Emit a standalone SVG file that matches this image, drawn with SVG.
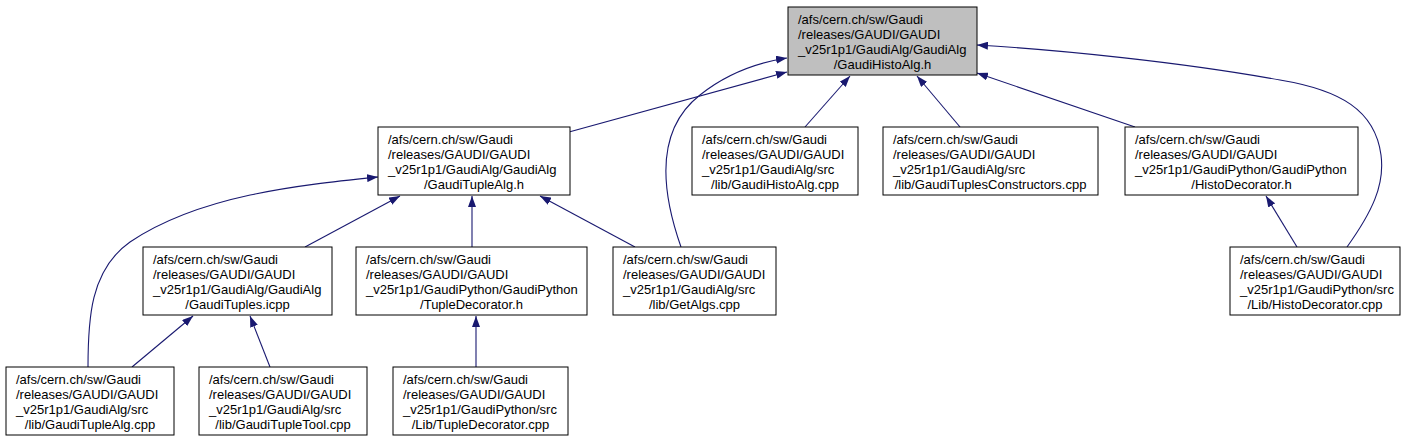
<svg xmlns="http://www.w3.org/2000/svg" width="1412" height="443" viewBox="0 0 1412 443">
<defs>
<marker id="ah" viewBox="0 0 11 8" refX="11" refY="4" markerWidth="11" markerHeight="8" markerUnits="userSpaceOnUse" orient="auto">
<polygon points="0,0 11,4 0,8" fill="#191970"/>
</marker>
<style>
.box{fill:#ffffff;stroke:#000000;stroke-width:1}
.root{fill:#bfbfbf;stroke:#000000;stroke-width:1}
text{font-family:"Liberation Sans",Helvetica,Arial,sans-serif;font-size:13px;fill:#000000}
.c{text-anchor:middle}
.e{fill:none;stroke:#191970;stroke-width:1.1;marker-end:url(#ah)}
</style>
</defs>
<rect width="1412" height="443" fill="#ffffff"/>
<g id="connectors">
<path class="e" d="M569,132 L787,72"/>
<path class="e" d="M681,247 C661,190 655,130 700,95 C725,75 755,63 787,58"/>
<path class="e" d="M805,127 L850,76"/>
<path class="e" d="M960,127 L917,76"/>
<path class="e" d="M1135,127 L977,73"/>
<path class="e" d="M1347,247 C1372,212 1385,185 1381,155 C1375,110 1340,90 1280,80 C1180,62 1060,50 977,45"/>
<path class="e" d="M305,247 L400,196"/>
<path class="e" d="M472,247 L472,196"/>
<path class="e" d="M635,247 L540,196"/>
<path class="e" d="M88,367 C88,320 90,270 130,242 C200,195 300,185 378,177"/>
<path class="e" d="M132,367 L193,316"/>
<path class="e" d="M270,367 L250,316"/>
<path class="e" d="M476,367 L476,316"/>
<path class="e" d="M1297,247 L1266,196"/>
</g>
<g id="n_root">
<rect class="root" x="788" y="7" width="189" height="68"/>
<text x="798" y="24">/afs/cern.ch/sw/Gaudi</text>
<text x="798" y="39">/releases/GAUDI/GAUDI</text>
<text x="798" y="54">_v25r1p1/GaudiAlg/GaudiAlg</text>
<text class="c" x="882.5" y="69">/GaudiHistoAlg.h</text>
</g>
<g id="n_tuplealg_h">
<rect class="box" x="378" y="127" width="192" height="68"/>
<text x="388" y="144">/afs/cern.ch/sw/Gaudi</text>
<text x="388" y="159">/releases/GAUDI/GAUDI</text>
<text x="388" y="174">_v25r1p1/GaudiAlg/GaudiAlg</text>
<text class="c" x="474" y="189">/GaudiTupleAlg.h</text>
</g>
<g id="n_histoalg_cpp">
<rect class="box" x="692" y="127" width="166" height="68"/>
<text x="702" y="144">/afs/cern.ch/sw/Gaudi</text>
<text x="702" y="159">/releases/GAUDI/GAUDI</text>
<text x="702" y="174">_v25r1p1/GaudiAlg/src</text>
<text class="c" x="775" y="189">/lib/GaudiHistoAlg.cpp</text>
</g>
<g id="n_tuplesconstructors">
<rect class="box" x="883" y="127" width="215" height="68"/>
<text x="893" y="144">/afs/cern.ch/sw/Gaudi</text>
<text x="893" y="159">/releases/GAUDI/GAUDI</text>
<text x="893" y="174">_v25r1p1/GaudiAlg/src</text>
<text class="c" x="990.5" y="189">/lib/GaudiTuplesConstructors.cpp</text>
</g>
<g id="n_histodecorator_h">
<rect class="box" x="1125" y="127" width="233" height="68"/>
<text x="1135" y="144">/afs/cern.ch/sw/Gaudi</text>
<text x="1135" y="159">/releases/GAUDI/GAUDI</text>
<text x="1135" y="174">_v25r1p1/GaudiPython/GaudiPython</text>
<text class="c" x="1241.5" y="189">/HistoDecorator.h</text>
</g>
<g id="n_tuples_icpp">
<rect class="box" x="143" y="247" width="189" height="68"/>
<text x="153" y="264">/afs/cern.ch/sw/Gaudi</text>
<text x="153" y="279">/releases/GAUDI/GAUDI</text>
<text x="153" y="294">_v25r1p1/GaudiAlg/GaudiAlg</text>
<text class="c" x="237.5" y="309">/GaudiTuples.icpp</text>
</g>
<g id="n_tupledecorator_h">
<rect class="box" x="356" y="247" width="231" height="68"/>
<text x="366" y="264">/afs/cern.ch/sw/Gaudi</text>
<text x="366" y="279">/releases/GAUDI/GAUDI</text>
<text x="366" y="294">_v25r1p1/GaudiPython/GaudiPython</text>
<text class="c" x="471.5" y="309">/TupleDecorator.h</text>
</g>
<g id="n_getalgs">
<rect class="box" x="613" y="247" width="163" height="68"/>
<text x="623" y="264">/afs/cern.ch/sw/Gaudi</text>
<text x="623" y="279">/releases/GAUDI/GAUDI</text>
<text x="623" y="294">_v25r1p1/GaudiAlg/src</text>
<text class="c" x="694.5" y="309">/lib/GetAlgs.cpp</text>
</g>
<g id="n_histodecorator_cpp">
<rect class="box" x="1230" y="247" width="170" height="68"/>
<text x="1240" y="264">/afs/cern.ch/sw/Gaudi</text>
<text x="1240" y="279">/releases/GAUDI/GAUDI</text>
<text x="1240" y="294">_v25r1p1/GaudiPython/src</text>
<text class="c" x="1315" y="309">/Lib/HistoDecorator.cpp</text>
</g>
<g id="n_tuplealg_cpp">
<rect class="box" x="6" y="367" width="168" height="68"/>
<text x="16" y="384">/afs/cern.ch/sw/Gaudi</text>
<text x="16" y="399">/releases/GAUDI/GAUDI</text>
<text x="16" y="414">_v25r1p1/GaudiAlg/src</text>
<text class="c" x="90" y="429">/lib/GaudiTupleAlg.cpp</text>
</g>
<g id="n_tupletool_cpp">
<rect class="box" x="199" y="367" width="168" height="68"/>
<text x="209" y="384">/afs/cern.ch/sw/Gaudi</text>
<text x="209" y="399">/releases/GAUDI/GAUDI</text>
<text x="209" y="414">_v25r1p1/GaudiAlg/src</text>
<text class="c" x="283" y="429">/lib/GaudiTupleTool.cpp</text>
</g>
<g id="n_tupledecorator_cpp">
<rect class="box" x="393" y="367" width="175" height="68"/>
<text x="403" y="384">/afs/cern.ch/sw/Gaudi</text>
<text x="403" y="399">/releases/GAUDI/GAUDI</text>
<text x="403" y="414">_v25r1p1/GaudiPython/src</text>
<text class="c" x="480.5" y="429">/Lib/TupleDecorator.cpp</text>
</g>
</svg>
